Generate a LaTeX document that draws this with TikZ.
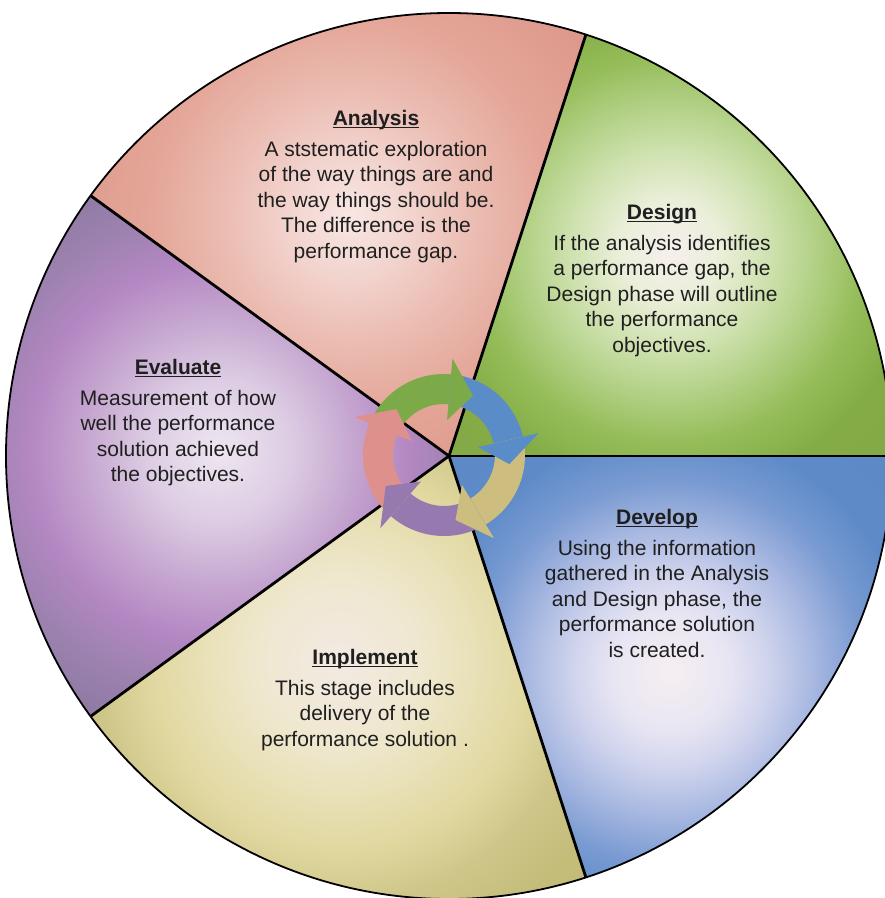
\documentclass[tikz,border=0pt]{standalone}
\usepackage{fontspec}
\setmainfont{Liberation Sans}
\usetikzlibrary{calc}

% sector palettes (centre -> rim)
\definecolor{anaA}{HTML}{F8E7E4}\definecolor{anaB}{HTML}{F2D3CD}\definecolor{anaC}{HTML}{EBBCB2}
\definecolor{anaD}{HTML}{E4A698}\definecolor{anaE}{HTML}{DD998C}\definecolor{anaF}{HTML}{D98F85}
\definecolor{desA}{HTML}{F6EFEC}\definecolor{desB}{HTML}{EAEFD9}\definecolor{desC}{HTML}{CEE1AE}
\definecolor{desD}{HTML}{B0CF82}\definecolor{desE}{HTML}{94BC58}\definecolor{desF}{HTML}{84AC46}
\definecolor{desG}{HTML}{85A049}
\definecolor{devA}{HTML}{F6EFF1}\definecolor{devB}{HTML}{E8E5F3}\definecolor{devC}{HTML}{CDD2EC}
\definecolor{devD}{HTML}{A2B4DF}\definecolor{devE}{HTML}{7A9BD2}\definecolor{devF}{HTML}{5E8BC8}
\definecolor{devG}{HTML}{5A88C5}
\definecolor{impA}{HTML}{F3E9E3}\definecolor{impB}{HTML}{EFE8D0}\definecolor{impC}{HTML}{E8E0B5}
\definecolor{impD}{HTML}{E0D79F}\definecolor{impE}{HTML}{CFC78A}\definecolor{impF}{HTML}{C4BC79}
\definecolor{impG}{HTML}{BFB772}
\definecolor{evaA}{HTML}{EEE6F0}\definecolor{evaB}{HTML}{DDCDE4}\definecolor{evaC}{HTML}{C7A9D1}
\definecolor{evaD}{HTML}{B487C3}\definecolor{evaE}{HTML}{9D82B0}\definecolor{evaF}{HTML}{8C79A1}
\definecolor{evaG}{HTML}{8A77A0}
% cycle arrows
\definecolor{arGreen}{HTML}{7DAA48}
\definecolor{arBlue}{HTML}{5A8CC8}
\definecolor{arKhaki}{HTML}{CDBE7F}
\definecolor{arPurple}{HTML}{967AAF}
\definecolor{arPink}{HTML}{DE918C}
\definecolor{bodytext}{HTML}{1F1F1F}

% radial shadings, 25bp = 450pt
\pgfdeclareradialshading{anaShade}{\pgfpoint{0bp}{0bp}}{color(0bp)=(anaA); color(3.5bp)=(anaB); color(7bp)=(anaC); color(11bp)=(anaD); color(16bp)=(anaE); color(25bp)=(anaF); color(50bp)=(anaF)}
\pgfdeclareradialshading{desShade}{\pgfpoint{0bp}{0bp}}{color(0bp)=(desA); color(2.8bp)=(desB); color(5.6bp)=(desC); color(8.3bp)=(desD); color(10.8bp)=(desE); color(13.5bp)=(desF); color(25bp)=(desG); color(50bp)=(desG)}
\pgfdeclareradialshading{devShade}{\pgfpoint{0bp}{0bp}}{color(0bp)=(devA); color(3.3bp)=(devB); color(5.6bp)=(devC); color(8.3bp)=(devD); color(10.6bp)=(devE); color(13.3bp)=(devF); color(25bp)=(devG); color(50bp)=(devG)}
\pgfdeclareradialshading{impShade}{\pgfpoint{0bp}{0bp}}{color(0bp)=(impA); color(4.4bp)=(impB); color(7.8bp)=(impC); color(10.6bp)=(impD); color(13.3bp)=(impE); color(16.7bp)=(impF); color(25bp)=(impG); color(50bp)=(impG)}
\pgfdeclareradialshading{evaShade}{\pgfpoint{0bp}{0bp}}{color(0bp)=(evaA); color(3.9bp)=(evaB); color(7.2bp)=(evaC); color(10.5bp)=(evaD); color(13.3bp)=(evaE); color(16.7bp)=(evaF); color(25bp)=(evaG); color(50bp)=(evaG)}

% bold title with a close underline
\newcommand\phasetitle[1]{{\bfseries\setbox0=\hbox{#1}\rlap{\rule[-2.6pt]{\wd0}{1.4pt}}\box0}}

\tikzset{
  % anchored at the baseline of the last line
  phasetext/.style={align=center, anchor=base, inner sep=0pt, text=bodytext,
    font=\fontsize{21}{25.5}\selectfont},
  divider/.style={line width=2.8pt, black},
  rim/.style={line width=1.8pt, black},
}

% one shaded sector: #1 start, #2 end angle, #3 shading, #4 gradient centre
\newcommand\phasesector[4]{%
  \begin{scope}
    \clip (0,0) -- (#1:443) arc[start angle=#1, end angle=#2, radius=443] -- cycle;
    \shade[shading=#3] ($#4+(-450,-450)$) rectangle ($#4+(450,450)$);
  \end{scope}}

% ring band from #1 to #2 (clockwise), colour #3
\newcommand\ringband[3]{%
  \fill[#3] (#1:81) arc[start angle=#1, end angle=#2, radius=81]
        -- (#2:51) arc[start angle=#2, end angle=#1, radius=51] -- cycle;}
% arrow head with base at angle #1, colour #2
\newcommand\ringhead[2]{%
  \fill[#2] (#1:97) -- ({#1-21}:66) -- (#1:35) -- cycle;}

\begin{document}
\begin{tikzpicture}[x=1pt, y=1pt]
  % origin at the hub of the wheel
  \useasboundingbox (-449,-442) rectangle (436,456);
  \fill[white] (-449,-442) rectangle (436,456);

  % shaded sectors
  \phasesector{72}{144}{anaShade}{(-100,240)}
  \phasesector{0}{72}{desShade}{(221,206)}
  \phasesector{-72}{0}{devShade}{(221,-216)}
  \phasesector{-144}{-72}{impShade}{(-110,-205)}
  \phasesector{144}{216}{evaShade}{(-230,5)}

  % dividers and rim
  \coordinate (hub) at (0,0);
  \coordinate (p1) at (72:443);
  \coordinate (p2) at (0:443);
  \coordinate (p3) at (-72:443);
  \coordinate (p4) at (-144:443);
  \coordinate (p5) at (144:443);
  \foreach \p in {p1,p2,p3,p4,p5} \draw[divider] (hub) -- (\p);
  \draw[rim] (hub) circle (443);

  % cycle of arrows
  \begin{scope}[shift={(-5,1)}]
    \ringband{157}{85}{arGreen}
    \ringband{85}{13}{arBlue}
    \ringband{13}{-59}{arKhaki}
    \ringband{-59}{-131}{arPurple}
    \ringband{-131}{-203}{arPink}
    \ringhead{85}{arGreen}
    \ringhead{13}{arBlue}
    \ringhead{-59}{arKhaki}
    \ringhead{-131}{arPurple}
    \ringhead{157}{arPink}
  \end{scope}

  % phase descriptions
  \node[phasetext] (analysis) at (-73,198) {\phasetitle{Analysis}\\[5pt]
    A ststematic exploration\\of the way things are and\\the way things should be.\\
    The difference is the\\performance gap.};
  \node[phasetext] (design) at (213,104) {\phasetitle{Design}\\[5pt]
    If the analysis identifies\\a performance gap, the\\Design phase will outline\\
    the performance\\objectives.};
  \node[phasetext] (develop) at (208,-201) {\phasetitle{Develop}\\[5pt]
    Using the information\\gathered in the Analysis\\and Design phase, the\\
    performance solution\\is created.};
  \node[phasetext] (implement) at (-84,-290) {\phasetitle{Implement}\\[5pt]
    This stage includes\\delivery of the\\performance solution .};
  \node[phasetext] (evaluate) at (-271,-25.5) {\phasetitle{Evaluate}\\[5pt]
    Measurement of how\\well the performance\\solution achieved\\the objectives.};
\end{tikzpicture}
\end{document}
